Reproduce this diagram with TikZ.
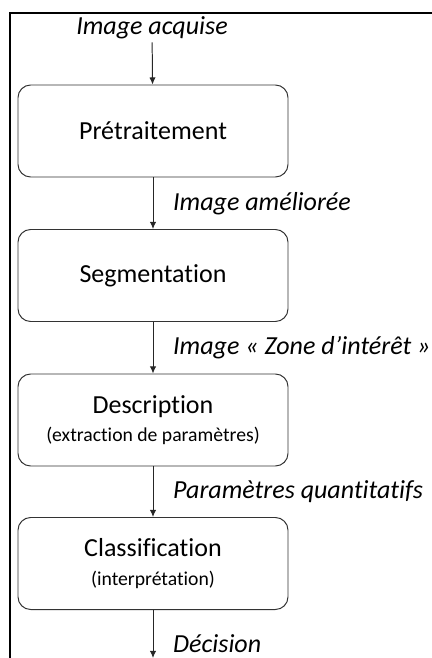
\documentclass[tikz,border=0pt]{standalone}
\usepackage{fontspec}
\setmainfont{Carlito}[Ligatures=NoCommon]
\usetikzlibrary{arrows.meta}
\tikzset{
	etape/.style={draw=black!80, line width=0.7pt, rounded corners=9pt, minimum width=270*0.025cm, minimum height=92*0.025cm, align=center, font=\fontsize{18.5}{22}\selectfont},
	flux/.style={-{Latex[length=5pt, width=4.5pt]}, line width=0.7pt, draw=black!85},
	donnee/.style={right, xshift=14pt, font=\fontsize{18.5}{22}\selectfont\itshape, inner sep=0pt}
}
\begin{document}
	\begin{tikzpicture}[x=0.025cm, y=-0.025cm]
		\useasboundingbox (0, 0) rectangle (432, 658);
		\draw[line width=1.4pt] (10, 658) -- (10, 13) -- (432, 13);
		\node[font=\fontsize{18.5}{22}\selectfont\itshape, inner sep=2pt] (acq) at (152, 28) {Image acquise};
		\node[etape] (pre) at (153, 131) {Prétraitement};
		\node[etape] (seg) at (153, 275.5) {Segmentation};
		\node[etape] (des) at (153, 420) {Description\\[-2pt]{\fontsize{14}{16}\selectfont (extraction de paramètres)}};
		\node[etape] (cla) at (153, 563.5) {Classification\\[-2pt]{\fontsize{14}{16}\selectfont (interprétation)}};
		\coordinate (fin) at (153, 658);
		\draw[flux] (acq) -- (pre);
		\draw[flux] (pre) -- node[donnee] {Image améliorée} (seg);
		\draw[flux] (seg) -- node[donnee] {Image « Zone d’intérêt »} (des);
		\draw[flux] (des) -- node[donnee] {Paramètres quantitatifs} (cla);
		\draw[flux] (cla) -- node[donnee, pos=0.7] {Décision} (fin);
	\end{tikzpicture}
\end{document}
